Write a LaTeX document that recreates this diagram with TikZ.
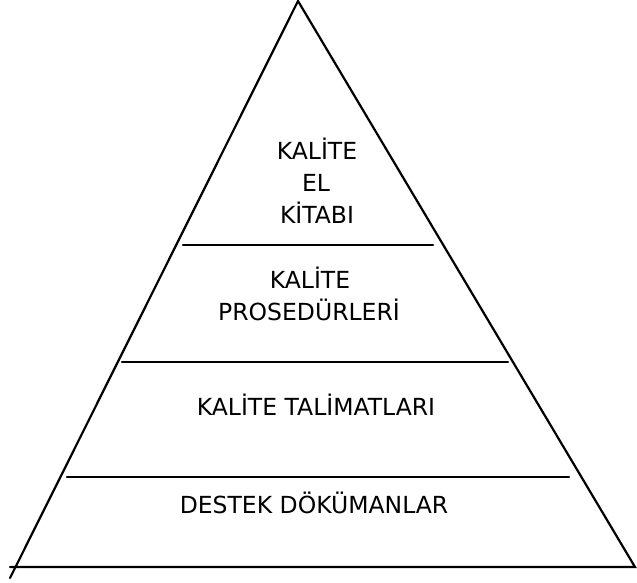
\documentclass[tikz,border=0pt]{standalone}
\usepackage{fontspec}
\setmainfont{DejaVu Sans}
\begin{document}
\begin{tikzpicture}[x=1pt,y=-1pt,
  edge/.style={line width=2.2pt,line cap=round},
  lbl/.style={anchor=base,inner sep=0pt,font=\fontsize{23.5}{32}\selectfont}]
\useasboundingbox (0,0) rectangle (637,582);
% triangle corners
\coordinate (apex) at (298,1);
\coordinate (bl) at (10,578);
\coordinate (br) at (635,567);
\coordinate (bbl) at (10,567);
% outline
\draw[edge] (bl) -- (apex) -- (br) -- (bbl);
% dividing lines
\coordinate (d1l) at (183,245); \coordinate (d1r) at (433,245);
\coordinate (d2l) at (122,362); \coordinate (d2r) at (508,362);
\coordinate (d3l) at (67,477);  \coordinate (d3r) at (569,477);
\draw[edge] (d1l) -- (d1r);
\draw[edge] (d2l) -- (d2r);
\draw[edge] (d3l) -- (d3r);
% labels
\node[lbl] (t1) at (317,159) {KALİTE};
\node[lbl] (t2) at (316,191) {EL};
\node[lbl] (t3) at (317,223) {KİTABI};
\node[lbl] (p1) at (310,288) {KALİTE};
\node[lbl] (p2) at (309,320) {PROSEDÜRLERİ};
\node[lbl] (k1) at (316,415) {KALİTE TALİMATLARI};
\node[lbl] (s1) at (314,513) {DESTEK DÖKÜMANLAR};
\end{tikzpicture}
\end{document}
